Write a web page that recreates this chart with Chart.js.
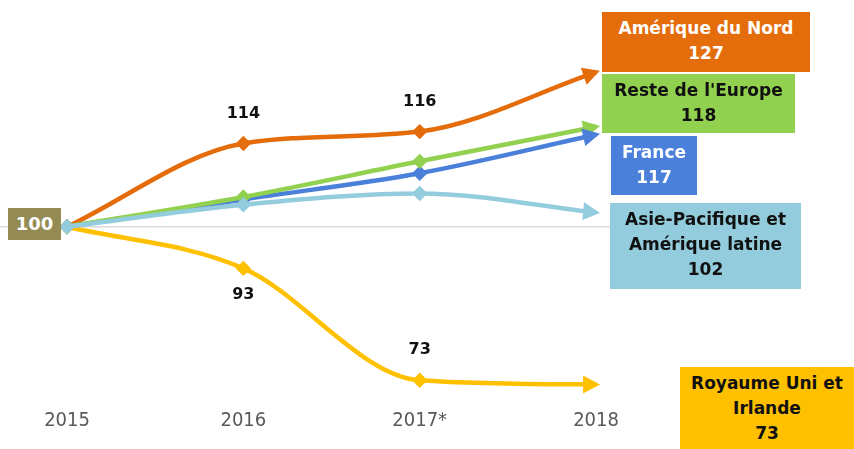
<!DOCTYPE html>
<html lang="fr">
<head>
  <meta charset="UTF-8">
  <title>Évolution 2015-2018</title>
  <style>
    body {
      margin: 0;
      padding: 0;
      background: #fff;
      font-family: "DejaVu Sans", sans-serif;
    }
    .wrap {
      position: relative;
      width: 854px;
      height: 449px;
      overflow: hidden;
    }
    .box {
      position: absolute;
      font-weight: bold;
      font-size: 17px;
      line-height: 25px;
      text-align: center;
      box-sizing: border-box;
      padding-top: 4px;
    }
    #chartBox { position: absolute; left: 0; top: 0; width: 854px; height: 449px; }
  </style>
</head>
<body>
<div class="wrap">
  <div id="chartBox"><canvas id="evoChart"></canvas></div>

  <div class="box" style="left:8px;top:208px;width:53px;height:32px;padding-top:3px;background:#948A54;color:#fff;font-size:18px;">100</div>
  <div class="box" style="left:602px;top:12px;width:208px;height:60px;background:#E46C0A;color:#fff;">Amérique du Nord<br>127</div>
  <div class="box" style="left:602px;top:74px;width:193px;height:59px;background:#92D050;color:#111;">Reste de l'Europe<br>118</div>
  <div class="box" style="left:611px;top:136px;width:86px;height:59px;background:#4A7FDA;color:#fff;">France<br>117</div>
  <div class="box" style="left:610px;top:203px;width:191px;height:86px;background:#93CDDD;color:#111;">Asie-Pacifique et<br>Amérique latine<br>102</div>
  <div class="box" style="left:680px;top:367px;width:174px;height:82px;background:#FFC000;color:#111;">Royaume Uni et<br>Irlande<br>73</div>
</div>

<script src="https://cdn.jsdelivr.net/npm/chart.js"></script>
<script>
  // years on the x axis
  const years = ['2015', '2016', '2017*', '2018'];

  // index values (base 100 in 2015)
  const asiePacifique = [100, 103.7, 105.6, 102.4];
  const resteEurope = [100, 105, 111, 116.8];
  const france = [100, 104.6, 109, 115.5];
  const ameriqueNord = [100, 114, 116, 126];
  const royaumeUni = [100, 93, 74.2, 73.5];

  // value labels printed next to the points
  const ameriqueNordLabels = [null, '114', '116', null];
  const royaumeUniLabels = [null, '93', '73', null];

  function toPoints(vals) {
    return vals.map((v, i) => ({ x: i, y: v }));
  }

  // grey reference line at 100, arrows at line ends, value labels
  const decorations = {
    id: 'decorations',
    beforeDatasetsDraw(chart) {
      const ctx = chart.ctx;
      const y = chart.scales.y.getPixelForValue(100);
      ctx.save();
      ctx.strokeStyle = '#d9d9d9';
      ctx.lineWidth = 1.5;
      ctx.beginPath();
      ctx.moveTo(0, y);
      ctx.lineTo(chart.chartArea.right, y);
      ctx.stroke();
      ctx.restore();
    },
    afterDatasetsDraw(chart) {
      const ctx = chart.ctx;
      chart.data.datasets.forEach((ds, di) => {
        const pts = chart.getDatasetMeta(di).data;
        const last = pts[pts.length - 1];
        const prev = pts[pts.length - 2];
        let fx = last.cp1x, fy = last.cp1y;
        if (fx === undefined || (Math.abs(fx - last.x) < 1 && Math.abs(fy - last.y) < 1)) {
          fx = prev.x; fy = prev.y;
        }
        const ang = Math.atan2(last.y - fy, last.x - fx);
        ctx.save();
        ctx.translate(last.x, last.y);
        ctx.rotate(ang);
        ctx.fillStyle = ds.borderColor;
        ctx.beginPath();
        ctx.moveTo(4, 0);
        ctx.lineTo(-13, -9);
        ctx.lineTo(-13, 9);
        ctx.closePath();
        ctx.fill();
        ctx.restore();

        if (ds.valueLabels) {
          ctx.save();
          ctx.font = 'bold 16px "DejaVu Sans", sans-serif';
          ctx.fillStyle = '#111';
          ctx.textAlign = 'center';
          ctx.textBaseline = 'middle';
          ds.valueLabels.forEach((txt, i) => {
            if (!txt) return;
            const p = pts[i];
            const dy = ds.labelSide[i] === 'above' ? -30 : 26;
            ctx.fillText(txt, p.x, p.y + dy);
          });
          ctx.restore();
        }
      });
    }
  };

  function series(label, vals, color, valueLabels, labelSide) {
    return {
      label: label,
      data: toPoints(vals),
      borderColor: color,
      backgroundColor: color,
      borderWidth: 4.5,
      cubicInterpolationMode: 'monotone',
      pointStyle: 'rectRot',
      pointRadius: [4.5, 4.5, 4.5, 0],
      pointHoverRadius: 4.5,
      valueLabels: valueLabels,
      labelSide: labelSide
    };
  }

  const ctx = document.getElementById('evoChart').getContext('2d');
  new Chart(ctx, {
    type: 'line',
    data: {
      datasets: [
        series('Asie-Pacifique et Amérique latine', asiePacifique, '#93CDDD'),
        series("Reste de l'Europe", resteEurope, '#92D050'),
        series('France', france, '#4A7FDA'),
        series('Amérique du Nord', ameriqueNord, '#E46C0A', ameriqueNordLabels, [null, 'above', 'above', null]),
        series('Royaume Uni et Irlande', royaumeUni, '#FFC000', royaumeUniLabels, [null, 'below', 'above', null])
      ]
    },
    options: {
      responsive: true,
      maintainAspectRatio: false,
      animation: false,
      layout: { padding: { left: 0, right: 244, top: 0, bottom: 6 } },
      plugins: {
        legend: { display: false },
        tooltip: { enabled: false }
      },
      scales: {
        x: {
          type: 'linear',
          min: -0.329,
          max: 3.079,
          afterBuildTicks: axis => { axis.ticks = years.map((_, i) => ({ value: i })); },
          ticks: {
            callback: v => years[v],
            color: '#595959',
            padding: 10,
            maxRotation: 0,
            font: { family: '"DejaVu Sans Condensed", sans-serif', size: 20 }
          },
          grid: { display: false },
          border: { display: false }
        },
        y: {
          display: false,
          min: 72.4,
          max: 136.6
        }
      }
    },
    plugins: [decorations]
  });
</script>
</body>
</html>
